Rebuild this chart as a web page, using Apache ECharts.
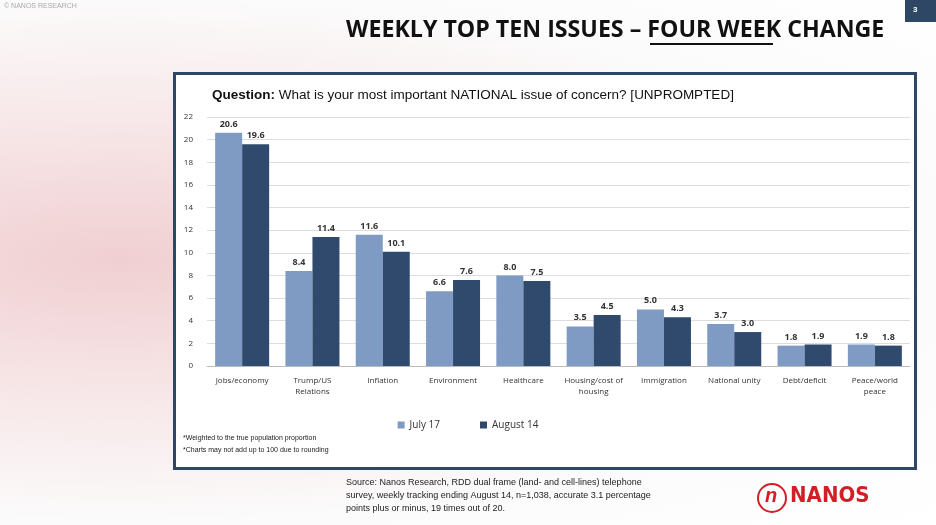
<!DOCTYPE html>
<html><head><meta charset="utf-8">
<script src="https://cdn.jsdelivr.net/npm/echarts@6/dist/echarts.min.js"></script>
<style>
html,body{margin:0;padding:0;background:#fff;}
#bg{position:absolute;left:0;top:0;width:936px;height:525px;background:radial-gradient(ellipse at 120px 260px,#f0cfd2 0%,#f7e6e7 35%,#fbfbfb 70%,#fff 100%);}
#box{position:absolute;left:173px;top:72px;width:744px;height:398px;border:3px solid #2d4765;background:#fff;box-sizing:border-box;}
#c{position:absolute;left:0;top:0;width:936px;height:525px;}
</style></head><body>
<div id="bg"></div><div id="box"></div>
<div id="c"></div>
<script>
const categories=["Jobs/economy","Trump/US\nRelations","Inflation","Environment","Healthcare","Housing/cost of\nhousing","Immigration","National unity","Debt/deficit","Peace/world\npeace"];
const july17=[20.6,8.4,11.6,6.6,8.0,3.5,5.0,3.7,1.8,1.9];
const aug14=[19.6,11.4,10.1,7.6,7.5,4.5,4.3,3.0,1.9,1.8];
const yTicks={min:0,max:22,interval:2};
const ch=echarts.init(document.getElementById('c'));
const lbl={show:true,position:'top',fontSize:9,fontWeight:'bold',color:'#333',formatter:p=>p.value.toFixed(1),distance:4};
ch.setOption({
 animation:false,
 textStyle:{fontFamily:'Open Sans'},
 grid:{left:207,right:26,top:117,bottom:159},
 legend:{bottom:90,left:'center',itemWidth:7,itemHeight:7,itemGap:40,textStyle:{fontSize:10,color:'#333'},icon:'rect',data:['July 17','August 14']},
 xAxis:{type:'category',data:categories,axisTick:{show:false},axisLine:{lineStyle:{color:'#bbb'}},axisLabel:{fontSize:8,color:'#333',interval:0,lineHeight:11,margin:9}},
 yAxis:{type:'value',min:yTicks.min,max:yTicks.max,interval:yTicks.interval,axisLabel:{fontSize:8,color:'#333',margin:14},splitLine:{lineStyle:{color:'#ddd'}}},
 series:[
  {name:'July 17',type:'bar',data:july17,barWidth:27,barGap:'0%',itemStyle:{color:'#7f9bc3'},label:lbl},
  {name:'August 14',type:'bar',data:aug14,barWidth:27,itemStyle:{color:'#2f4a6d'},label:lbl}
 ],
 graphic:[
  {type:'text',left:4,top:3,style:{text:'© NANOS RESEARCH',fontSize:7,fill:'#aaa'}},
  {type:'rect',left:905,top:0,shape:{width:31,height:22},style:{fill:'#2d4765'},z:-1},
  {type:'text',left:913,top:6,style:{text:'3',fontSize:8,fill:'#fff',fontWeight:'bold'}},
  {type:'text',left:346,top:19,style:{text:'WEEKLY TOP TEN ISSUES – FOUR WEEK CHANGE',fontSize:23.2,fontWeight:'bold',fill:'#111',fontFamily:'Open Sans'}},
  {type:'rect',left:650,top:43,shape:{width:123,height:2},style:{fill:'#111'}},
  {type:'text',left:212,top:88,style:{rich:{b:{fontWeight:'bold',fontSize:13.5,fill:'#111'},n:{fontSize:13.5,fill:'#111'}},text:'{b|Question:}{n| What is your most important NATIONAL issue of concern? [UNPROMPTED]}'}},
  {type:'text',left:183,top:432,style:{text:'*Weighted to the true population proportion\n*Charts may not add up to 100 due to rounding',fontSize:7,lineHeight:12,fill:'#222'}},
  {type:'text',left:346,top:476,style:{text:'Source: Nanos Research, RDD dual frame (land- and cell-lines) telephone\nsurvey, weekly tracking ending August 14, n=1,038, accurate 3.1 percentage\npoints plus or minus, 19 times out of 20.',fontSize:9,lineHeight:13,fill:'#222'}},
  {type:'circle',shape:{cx:772,cy:498,r:14},style:{fill:'none',stroke:'#d21f26',lineWidth:2}},
  {type:'text',left:765,top:486,style:{text:'n',fontSize:20,fontStyle:'italic',fontWeight:'bold',fill:'#d21f26'}},
  {type:'text',left:790,top:485,style:{text:'NANOS',fontSize:22,fontWeight:'bold',fill:'#d21f26',fontFamily:'DejaVu Sans Condensed'}}
 ]
});
</script></body></html>
